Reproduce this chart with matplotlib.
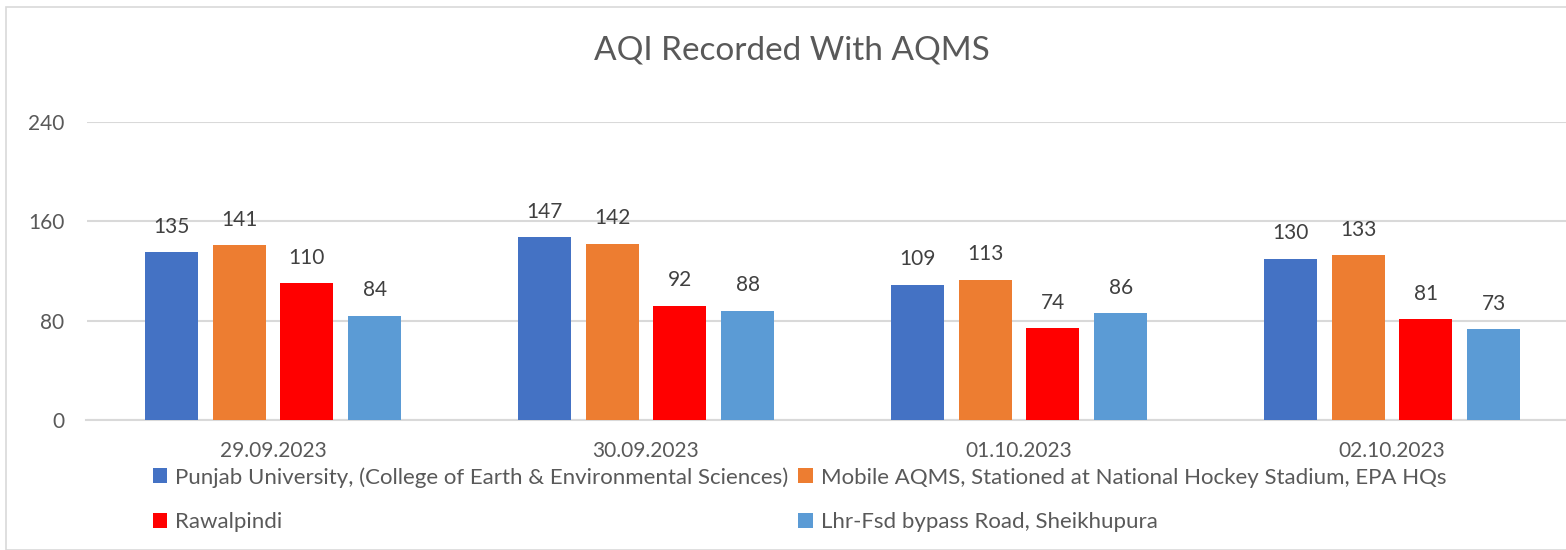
"""AQI recorded with AQMS, grouped bars per day."""

import matplotlib.pyplot as plt
import matplotlib.patches as mpatches
import numpy as np

plt.rcParams['font.family'] = ['Lato', 'DejaVu Sans']

dates = ["29.09.2023", "30.09.2023", "01.10.2023", "02.10.2023"]
stations = [
    "Punjab University, (College of Earth & Environmental Sciences)",
    "Mobile AQMS, Stationed at National Hockey Stadium, EPA HQs",
    "Rawalpindi",
    "Lhr-Fsd bypass Road, Sheikhupura",
]
punjab_univ = [135, 147, 109, 130]
mobile_aqms = [141, 142, 113, 133]
rawalpindi = [110, 92, 74, 81]
lhr_fsd = [84, 88, 86, 73]
yticks = [0, 80, 160, 240]

colors = ["#4472C4", "#ED7D31", "#FF0000", "#5B9BD5"]
text_color = "#595959"
grid_color = "#D9D9D9"

fig = plt.figure(figsize=(15.66, 5.5), dpi=100)
# axes run past the right edge like the cropped original
ax = fig.add_axes([86.5 / 1566, 130 / 550, 1492 / 1566, 298 / 550])

x = np.arange(len(dates))
width = 0.142
step = 0.182
series = [punjab_univ, mobile_aqms, rawalpindi, lhr_fsd]
handles = []
for i, (vals, col, name) in enumerate(zip(series, colors, stations)):
    bars = ax.bar(x + (i - 1.5) * step, vals, width, color=col, label=name, zorder=3)
    ax.bar_label(bars, padding=11, fontsize=15, color="#404040")
    handles.append(bars)

ax.set_xlim(-0.5, 3.5)
ax.set_ylim(0, 240)
ax.set_yticks(yticks)
ax.set_xticks(x)
ax.set_xticklabels(dates)
ax.yaxis.grid(True, color=grid_color, lw=1.5, zorder=0)
ax.tick_params(axis="both", length=0, labelsize=15, labelcolor=text_color)
ax.tick_params(axis="y", pad=16)
ax.tick_params(axis="x", pad=15)
for side in ["top", "right", "left"]:
    ax.spines[side].set_visible(False)
ax.spines["bottom"].set_color(grid_color)
ax.spines["bottom"].set_linewidth(1.5)

fig.text(792 / 1566, 1 - 51 / 550, "AQI Recorded With AQMS", ha="center", va="center",
         fontsize=24, color=text_color)

# row-wise order: column 1 = Punjab, Rawalpindi; column 2 = Mobile, Lhr
order = [0, 2, 1, 3]
fig.legend([handles[i] for i in order], [stations[i] for i in order], ncol=2,
           loc="upper left", bbox_to_anchor=(153 / 1566, 1 - 467 / 550),
           frameon=False, fontsize=16, labelcolor=text_color,
           handlelength=0.65, handleheight=0.65, handletextpad=0.35,
           columnspacing=0.45, labelspacing=1.1, borderpad=0, borderaxespad=0)

# light outer border of the chart area
fig.patches.append(mpatches.Rectangle((6 / 1566, 0), 1.1, 1 - 7 / 550, transform=fig.transFigure,
                                      fill=False, edgecolor=grid_color, lw=1.2))

fig.savefig("out.png", dpi=100)
